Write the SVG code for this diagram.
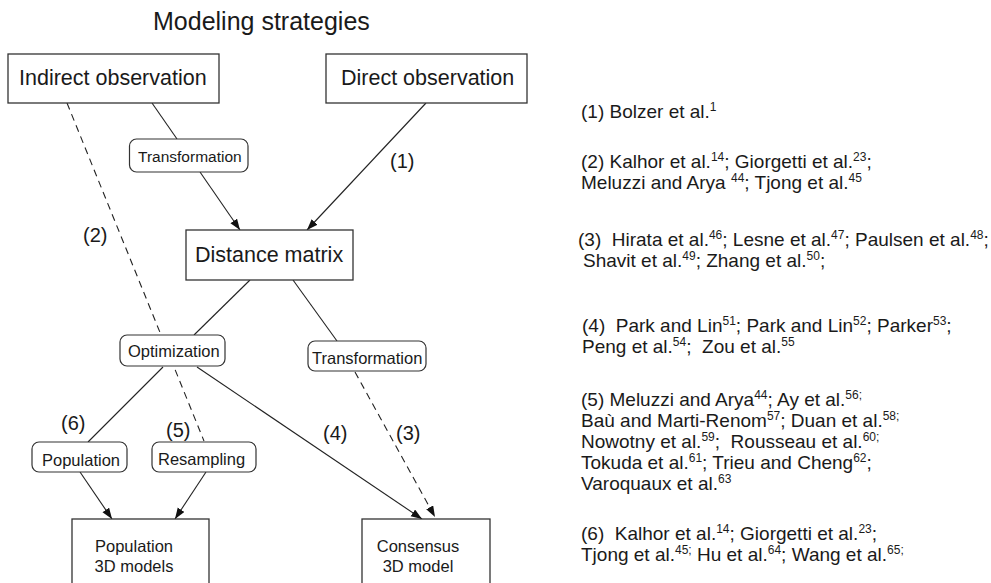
<svg xmlns="http://www.w3.org/2000/svg" width="991" height="583" viewBox="0 0 991 583">
<style>
text{font-family:"Liberation Sans",Arial,Helvetica,sans-serif;fill:#1a1a1a}
.box{fill:#fff;stroke:#333;stroke-width:1.3}
.rbox{fill:#fff;stroke:#333;stroke-width:1.2}
.big{font-size:21.5px}
.sm{font-size:16.5px}
.num{font-size:20px}
.ref{font-size:19px}
.sup{font-size:12px;baseline-shift:7px}
.ln{stroke:#222;stroke-width:1.1;fill:none}
.ds{stroke:#222;stroke-width:1.1;fill:none;stroke-dasharray:7 5}
.arr{marker-end:url(#ah)}
</style>
<defs>
<marker id="ah" markerUnits="userSpaceOnUse" markerWidth="12" markerHeight="9" refX="11" refY="4" orient="auto">
<path d="M0,0 L11,4 L0,8 z" fill="#111"/>
</marker>
</defs>
<text x="153" y="30" style="font-size:25px">Modeling strategies</text>
<g id="connectors">
<line class="ds" x1="67" y1="103" x2="204" y2="441"/>
<line class="ln" x1="152" y1="103" x2="177" y2="139"/>
<line class="ln arr" x1="200" y1="172" x2="240" y2="230"/>
<line class="ln arr" x1="426" y1="103" x2="307" y2="230"/>
<line class="ln" x1="250" y1="280" x2="194" y2="335"/>
<line class="ln" x1="293" y1="280" x2="337" y2="341"/>
<line class="ln" x1="163" y1="367" x2="88" y2="442"/>
<line class="ln arr" x1="197" y1="367" x2="422" y2="519"/>
<line class="ds arr" x1="355" y1="372" x2="435" y2="517"/>
<line class="ln arr" x1="80" y1="472" x2="112" y2="519"/>
<line class="ln arr" x1="206" y1="472" x2="175" y2="519"/>
</g>
<g id="indirect"><rect class="box" x="8" y="54" width="211" height="49"/><text class="big" x="19" y="85">Indirect observation</text></g>
<g id="direct"><rect class="box" x="326" y="54" width="201" height="49"/><text class="big" x="341" y="85">Direct observation</text></g>
<g id="transform1"><rect class="rbox" x="129.5" y="139" width="118.5" height="33" rx="7"/><text x="138" y="162" style="font-size:15.5px">Transformation</text></g>
<g id="distance"><rect class="box" x="186" y="230" width="167" height="50"/><text class="big" x="195" y="262">Distance matrix</text></g>
<g id="optimization"><rect class="rbox" x="120" y="335" width="105" height="31" rx="7"/><text class="sm" x="128" y="357">Optimization</text></g>
<g id="transform2"><rect class="rbox" x="308" y="341" width="118" height="30" rx="7"/><text class="sm" x="312" y="364">Transformation</text></g>
<g id="population"><rect class="rbox" x="32" y="442" width="95" height="30" rx="7"/><text class="sm" x="42" y="466">Population</text></g>
<g id="resampling"><rect class="rbox" x="152" y="442" width="104" height="30" rx="7"/><text class="sm" x="158" y="465">Resampling</text></g>
<g id="pop3d"><rect class="box" x="72" y="519" width="137" height="80"/><text class="sm" x="134" y="552" text-anchor="middle">Population</text><text class="sm" x="134" y="572" text-anchor="middle">3D models</text></g>
<g id="cons3d"><rect class="box" x="362" y="519" width="128" height="80"/><text class="sm" x="418" y="552" text-anchor="middle">Consensus</text><text class="sm" x="418" y="572" text-anchor="middle">3D model</text></g>
<g id="labels">
<text class="num" x="390" y="168">(1)</text>
<text class="num" x="83" y="242">(2)</text>
<text class="num" x="396" y="440">(3)</text>
<text class="num" x="323" y="440">(4)</text>
<text class="num" x="166" y="437">(5)</text>
<text class="num" x="61" y="430">(6)</text>
</g>
<g id="references">
<text class="ref" x="581" y="118">(1) Bolzer et al.<tspan class="sup">1</tspan></text>
<text class="ref" x="581" y="168">(2) Kalhor et al.<tspan class="sup">14</tspan>; Giorgetti et al.<tspan class="sup">23</tspan>;</text>
<text class="ref" x="581" y="189" xml:space="preserve">Meluzzi and Arya <tspan class="sup">44</tspan>; Tjong et al.<tspan class="sup">45</tspan></text>
<text class="ref" x="578" y="246" xml:space="preserve">(3)  Hirata et al.<tspan class="sup">46</tspan>; Lesne et al.<tspan class="sup">47</tspan>; Paulsen et al.<tspan class="sup">48</tspan>;</text>
<text class="ref" x="583" y="267">Shavit et al.<tspan class="sup">49</tspan>; Zhang et al.<tspan class="sup">50</tspan>;</text>
<text class="ref" x="582" y="332" xml:space="preserve">(4)  Park and Lin<tspan class="sup">51</tspan>; Park and Lin<tspan class="sup">52</tspan>; Parker<tspan class="sup">53</tspan>;</text>
<text class="ref" x="582" y="353" xml:space="preserve">Peng et al.<tspan class="sup">54</tspan>;  Zou et al.<tspan class="sup">55</tspan></text>
<text class="ref" x="581" y="406">(5) Meluzzi and Arya<tspan class="sup">44</tspan>; Ay et al.<tspan class="sup">56;</tspan></text>
<text class="ref" x="581" y="427">Baù and Marti-Renom<tspan class="sup">57</tspan>; Duan et al.<tspan class="sup">58;</tspan></text>
<text class="ref" x="581" y="448" xml:space="preserve">Nowotny et al.<tspan class="sup">59</tspan>;  Rousseau et al.<tspan class="sup">60;</tspan></text>
<text class="ref" x="581" y="469">Tokuda et al.<tspan class="sup">61</tspan>; Trieu and Cheng<tspan class="sup">62</tspan>;</text>
<text class="ref" x="581" y="490">Varoquaux et al.<tspan class="sup">63</tspan></text>
<text class="ref" x="581" y="540" xml:space="preserve">(6)  Kalhor et al.<tspan class="sup">14</tspan>; Giorgetti et al.<tspan class="sup">23</tspan>;</text>
<text class="ref" x="581" y="561">Tjong et al.<tspan class="sup">45;</tspan> Hu et al.<tspan class="sup">64</tspan>; Wang et al.<tspan class="sup">65;</tspan></text>
</g>
</svg>
